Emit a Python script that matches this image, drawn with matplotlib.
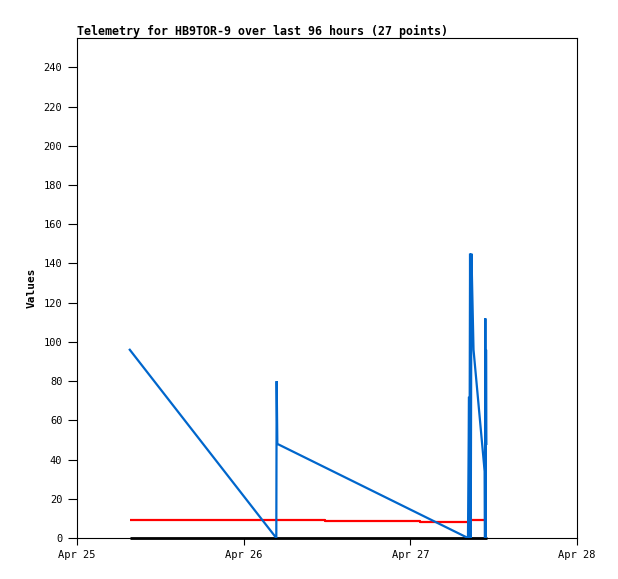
import matplotlib
import matplotlib.pyplot as plt

matplotlib.use("Agg")

# hours since Apr 25 00:00
hours = [7.6, 28.7, 28.75, 28.8, 28.85, 56.3, 56.45, 56.5, 56.6, 56.7,
         56.8, 57.0, 57.1, 58.7, 58.75, 58.8, 58.85, 58.9, 58.95]
blue_vals = [96, 0, 80, 64, 48, 0, 72, 0, 145, 0,
             145, 112, 96, 34, 0, 112, 0, 96, 48]

# black channel stays at zero over the whole span
black_hours = [7.6, 59.0]
black_vals = [0, 0]

# red telemetry channel
red_hours = [7.6, 35.7, 35.7, 49.4, 49.4, 56.6, 56.6, 59.0]
red_vals = [9, 9, 8.5, 8.5, 8, 8, 9, 9]

x_ticks = [0, 24, 48, 72]
x_labels = ["Apr 25", "Apr 26", "Apr 27", "Apr 28"]
y_ticks = list(range(0, 241, 20))

mono = "DejaVu Sans Mono"

fig = plt.figure(figsize=(6.18, 5.79), dpi=100)
ax = fig.add_axes([77 / 618, 1 - 538 / 579, 500 / 618, 500 / 579])

ax.plot(black_hours, black_vals, color="black", lw=2.0,
        solid_capstyle="butt", clip_on=False, zorder=3)
ax.plot(red_hours, red_vals, color="#ff0000", lw=1.6, solid_capstyle="butt")
ax.plot(hours, blue_vals, color="#0066cc", lw=1.6, solid_joinstyle="miter",
        zorder=4)

ax.set_xlim(0, 72)
ax.set_ylim(0, 255)
ax.set_xticks(x_ticks)
ax.set_xticklabels(x_labels, family=mono, fontsize=7.5)
ax.set_yticks(y_ticks)
ax.set_yticklabels([str(v) for v in y_ticks], family=mono, fontsize=7.5)
ax.tick_params(axis="y", length=6.5, width=0.8, pad=4)
ax.tick_params(axis="x", length=5, width=0.8, pad=4)
for s in ax.spines.values():
    s.set_linewidth(0.8)

ax.set_ylabel("Values", family=mono, fontsize=8, fontweight="bold", labelpad=5)
ax.set_title("Telemetry for HB9TOR-9 over last 96 hours (27 points)",
             family=mono, fontsize=8.35, fontweight="bold", loc="left", pad=2)

fig.savefig("out.png", dpi=100, facecolor="white")
